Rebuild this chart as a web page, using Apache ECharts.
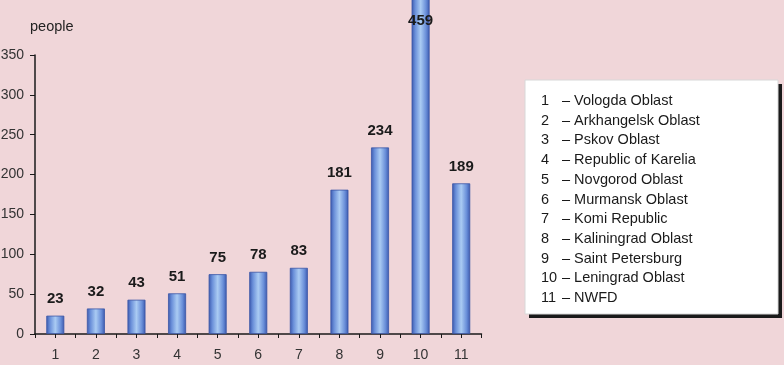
<!DOCTYPE html>
<html>
<head>
<meta charset="utf-8">
<script src="https://cdn.jsdelivr.net/npm/echarts@6/dist/echarts.min.js"></script>
<style>
html,body{margin:0;padding:0;background:#f0d6d9;}
#main{width:784px;height:365px;}
</style>
</head>
<body>
<div id="main"></div>
<script>
const categories = ['1','2','3','4','5','6','7','8','9','10','11'];
const values = [23, 32, 43, 51, 75, 78, 83, 181, 234, 459, 189];
const legendNumbers = ['1','2','3','4','5','6','7','8','9','10','11'];
const legendNames = ['Vologda Oblast','Arkhangelsk Oblast','Pskov Oblast','Republic of Karelia','Novgorod Oblast','Murmansk Oblast','Komi Republic','Kaliningrad Oblast','Saint Petersburg','Leningrad Oblast','NWFD'];
const yTicks = {min: 0, max: 350, interval: 50};
const yName = 'people';

const FONT = '"Liberation Sans", "DejaVu Sans", sans-serif';
const chart = echarts.init(document.getElementById('main'));

const barGradient = new echarts.graphic.LinearGradient(0, 0, 1, 0, [
  {offset: 0, color: '#3a58ad'},
  {offset: 0.2, color: '#6a8fd9'},
  {offset: 0.5, color: '#aacbf3'},
  {offset: 0.8, color: '#6a8fd9'},
  {offset: 1, color: '#3a58ad'}
]);

const seriesData = values.map((v, i) => {
  const item = {value: v};
  if (v > yTicks.max) {
    item.label = {position: 'insideTop', distance: 45};
  }
  return item;
});

const legendChildren = [];
legendChildren.push({type: 'rect', shape: {x: 529, y: 84, width: 253, height: 234}, style: {fill: '#1a1a1a'}});
legendChildren.push({type: 'rect', shape: {x: 525, y: 80, width: 253, height: 234}, style: {fill: '#ffffff', stroke: '#d8d8d8', lineWidth: 1}});
legendNames.forEach((name, i) => {
  const y = 101 + i * 19.7;
  legendChildren.push({type: 'text', x: 541, y: y, style: {text: legendNumbers[i], font: '14.5px ' + FONT, fill: '#1a1a1a', verticalAlign: 'middle', align: 'left'}});
  legendChildren.push({type: 'text', x: 562, y: y, style: {text: '– ' + name, font: '14.5px ' + FONT, fill: '#1a1a1a', verticalAlign: 'middle', align: 'left'}});
});
legendChildren.push({type: 'text', x: 30, y: 27, style: {text: yName, font: '14.5px ' + FONT, fill: '#222', verticalAlign: 'middle', align: 'left'}});

chart.setOption({
  backgroundColor: '#f0d6d9',
  animation: false,
  grid: {left: 35, right: 302.5, top: 55, bottom: 31, containLabel: false, outerBoundsMode: 'none'},
  xAxis: [{
    type: 'category',
    data: categories,
    boundaryGap: true,
    axisLine: {lineStyle: {color: '#1a1a1a', width: 1.5}},
    axisTick: {show: true, interval: 0, length: 4, lineStyle: {color: '#1a1a1a', width: 1}},
    axisLabel: {color: '#333', fontFamily: FONT, fontSize: 14, margin: 14, interval: 0}
  }, {
    type: 'category',
    data: categories,
    position: 'bottom',
    boundaryGap: true,
    axisLine: {show: false},
    axisTick: {show: true, alignWithLabel: true, interval: 0, length: 4, lineStyle: {color: '#1a1a1a', width: 1}},
    axisLabel: {show: false}
  }],
  yAxis: {
    type: 'value',
    min: yTicks.min, max: yTicks.max, interval: yTicks.interval,
    axisLine: {show: true, lineStyle: {color: '#1a1a1a', width: 1.5}},
    axisTick: {show: true, inside: false, length: 5, lineStyle: {color: '#1a1a1a'}},
    splitLine: {show: false},
    axisLabel: {color: '#333', fontFamily: FONT, fontSize: 14, margin: 11}
  },
  series: [{
    type: 'bar',
    data: seriesData,
    barWidth: 18,
    clip: false,
    itemStyle: {color: barGradient, borderColor: '#3a56a6', borderWidth: 0.8},
    label: {show: true, position: 'top', distance: 9, color: '#1a1a1a', fontFamily: FONT, fontWeight: 'bold', fontSize: 15}
  }],
  graphic: legendChildren
});
</script>
</body>
</html>
